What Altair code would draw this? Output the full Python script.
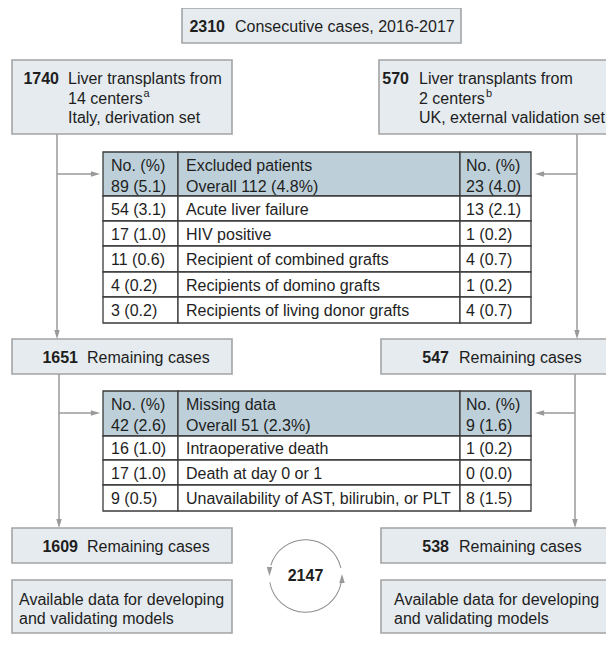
import altair as alt
import pandas as pd

# ------------------------------------------------------------------ data
total_n = "2310"
total_label = "Consecutive cases, 2016-2017"

italy_n = "1740"
italy_lines = ["Liver transplants from", "14 centers", "Italy, derivation set"]
italy_note = "a"
uk_n = "570"
uk_lines = ["Liver transplants from", "2 centers", "UK, external validation set"]
uk_note = "b"

excl_head_left = ["No. (%)", "89 (5.1)"]
excl_head_mid = ["Excluded patients", "Overall 112 (4.8%)"]
excl_head_right = ["No. (%)", "23 (4.0)"]
excl_italy = ["54 (3.1)", "17 (1.0)", "11 (0.6)", "4 (0.2)", "3 (0.2)"]
excl_reason = ["Acute liver failure", "HIV positive", "Recipient of combined grafts",
               "Recipients of domino grafts", "Recipients of living donor grafts"]
excl_uk = ["13 (2.1)", "1 (0.2)", "4 (0.7)", "1 (0.2)", "4 (0.7)"]

remain1 = ["1651", "547"]
remain_label = "Remaining cases"

miss_head_left = ["No. (%)", "42 (2.6)"]
miss_head_mid = ["Missing data", "Overall 51 (2.3%)"]
miss_head_right = ["No. (%)", "9 (1.6)"]
miss_italy = ["16 (1.0)", "17 (1.0)", "9 (0.5)"]
miss_reason = ["Intraoperative death", "Death at day 0 or 1",
               "Unavailability of AST, bilirubin, or PLT"]
miss_uk = ["1 (0.2)", "0 (0.0)", "8 (1.5)"]

remain2 = ["1609", "538"]
final_lines = ["Available data for developing", "and validating models"]
pooled_n = "2147"

# ------------------------------------------------------------------ layout / style
W, H = 598, 628
FONT = "Liberation Sans"
FS = 16
C_TEXT = "#1e1e1e"
C_BOX = "#e5ebee"
C_BOX_STROKE = "#a4a4a4"
C_HEAD = "#bdd0d9"
C_GRID = "#3a3a3a"
C_ARROW = "#9a9a9a"

xs = alt.Scale(domain=[8, 8 + W], nice=False, zero=False)
ys = alt.Scale(domain=[8, 8 + H], nice=False, zero=False, reverse=True)


def X(f):
    return alt.X(f, type="quantitative", scale=xs, axis=None)


def Y(f):
    return alt.Y(f, type="quantitative", scale=ys, axis=None)


LX = (12, 232)
RX = (379, 620)

# boxes
boxes = pd.DataFrame([
    (182, 461, 8, 43),
    (LX[0], LX[1], 60, 134), (RX[0], RX[1], 60, 134),
    (LX[0], LX[1], 339, 374), (381, RX[1], 339, 374),
    (LX[0], LX[1], 528, 563), (381, RX[1], 528, 563),
    (LX[0], LX[1], 580, 633), (381, RX[1], 580, 633),
], columns=["x", "x2", "y", "y2"])

# table cells
cols = [103, 178, 460, 531]
t1_rows = [152, 196, 221, 246, 272, 297, 323]
t2_rows = [391, 436, 460, 485, 511]
cells = []
for rows in (t1_rows, t2_rows):
    for i in range(len(rows) - 1):
        for j in range(3):
            cells.append((cols[j], cols[j + 1], rows[i], rows[i + 1],
                          C_HEAD if i == 0 else "white"))
cells = pd.DataFrame(cells, columns=["x", "x2", "y", "y2", "fill"])

# connector lines
lines = pd.DataFrame([
    (57, 134, 57, 335), (57, 174, 96, 174),
    (577, 134, 577, 335), (577, 174, 539, 174),
    (59, 374, 59, 524), (59, 413, 96, 413),
    (575, 374, 575, 524), (575, 413, 539, 413),
], columns=["x", "y", "x2", "y2"])

DOWN = "M-0.6,-1L0.6,-1L0,1Z"
UP = "M-0.6,1L0.6,1L0,-1Z"
RIGHT = "M-1,-0.6L-1,0.6L1,0Z"
LEFT = "M1,-0.6L1,0.6L-1,0Z"
heads = pd.DataFrame([
    (57, 334.5, DOWN), (577, 334.5, DOWN), (59, 523.5, DOWN), (575, 523.5, DOWN),
    (95.5, 174, RIGHT), (95.5, 413, RIGHT), (539.5, 174, LEFT), (539.5, 413, LEFT),
    (269.5, 571.5, DOWN), (342, 578.5, UP),
], columns=["x", "y", "shape"])

arcs = pd.DataFrame([
    (305.5, 576, 5.01, 7.63),
    (305.5, 576, 1.76, 4.54),
], columns=["x", "y", "t1", "t2"])

# texts
UKX = 419
bold_right = pd.DataFrame([
    (225, 26, total_n),
    (59, 78, italy_n), (UKX - 10, 78, uk_n),
    (78, 357, remain1[0]), (449, 357, remain1[1]),
    (78, 546, remain2[0]), (449, 546, remain2[1]),
], columns=["x", "y", "t"])

reg = [(235, 26, total_label)]
for k, ln in enumerate(italy_lines):
    reg.append((68, 78 + 19.5 * k, ln))
for k, ln in enumerate(uk_lines):
    reg.append((UKX, 78 + 19.5 * k, ln))
reg.append((87, 357, remain_label))
reg.append((459, 357, remain_label))
reg.append((87, 546, remain_label))
reg.append((459, 546, remain_label))
CX = [111, 186, 466]
for hl, hm, hr, ys_ in ((excl_head_left, excl_head_mid, excl_head_right, (164.5, 185.5)),
                        (miss_head_left, miss_head_mid, miss_head_right, (403.5, 424.5))):
    for k in range(2):
        reg.append((CX[0], ys_[k], hl[k]))
        reg.append((CX[1], ys_[k], hm[k]))
        reg.append((CX[2], ys_[k], hr[k]))
for a, b, c, yy in zip(excl_italy, excl_reason, excl_uk, [208.5, 233.5, 259, 284.5, 310]):
    reg += [(CX[0], yy, a), (CX[1], yy, b), (CX[2], yy, c)]
for a, b, c, yy in zip(miss_italy, miss_reason, miss_uk, [448, 472.5, 498]):
    reg += [(CX[0], yy, a), (CX[1], yy, b), (CX[2], yy, c)]
for k, ln in enumerate(final_lines):
    reg.append((19, 599 + 18.5 * k, ln))
    reg.append((394, 599 + 18.5 * k, ln))
reg = pd.DataFrame(reg, columns=["x", "y", "t"])

centered = pd.DataFrame([(305.5, 575, pooled_n)], columns=["x", "y", "t"])
notes = pd.DataFrame([(143.5, 93.5, italy_note), (UKX + 67, 93.5, uk_note)],
                     columns=["x", "y", "t"])

# ------------------------------------------------------------------ layers
box_layer = alt.Chart(boxes).mark_rect(
    fill=C_BOX, stroke=C_BOX_STROKE, strokeWidth=1.6, clip=True
).encode(x=X("x"), x2="x2", y=Y("y"), y2="y2")

cell_layer = alt.Chart(cells).mark_rect(
    stroke=C_GRID, strokeWidth=1.3
).encode(x=X("x"), x2="x2", y=Y("y"), y2="y2", fill=alt.Fill("fill:N", scale=None))

line_layer = alt.Chart(lines).mark_rule(
    color=C_ARROW, strokeWidth=1.5
).encode(x=X("x"), x2="x2", y=Y("y"), y2="y2")

head_layer = alt.Chart(heads).mark_point(
    filled=True, size=85, color=C_ARROW, opacity=1
).encode(x=X("x"), y=Y("y"), shape=alt.Shape("shape:N", scale=None))

arc_layer = alt.Chart(arcs).mark_arc(
    radius=36.8, radius2=35.8, color="#8c8c8c"
).encode(x=X("x"), y=Y("y"), theta=alt.Theta("t1:Q", scale=None), theta2="t2:Q")

txt_bold = alt.Chart(bold_right).mark_text(
    font=FONT, fontSize=FS, fontWeight="bold", align="right", baseline="middle",
    dy=1, color=C_TEXT
).encode(x=X("x"), y=Y("y"), text="t:N")

txt_reg = alt.Chart(reg).mark_text(
    font=FONT, fontSize=FS, align="left", baseline="middle", dy=1, color=C_TEXT
).encode(x=X("x"), y=Y("y"), text="t:N")

txt_center = alt.Chart(centered).mark_text(
    font=FONT, fontSize=FS, fontWeight="bold", align="center", baseline="middle",
    dy=1, color=C_TEXT
).encode(x=X("x"), y=Y("y"), text="t:N")

txt_notes = alt.Chart(notes).mark_text(
    font=FONT, fontSize=11, align="left", baseline="middle", color=C_TEXT
).encode(x=X("x"), y=Y("y"), text="t:N")

chart = alt.layer(
    box_layer, cell_layer, line_layer, head_layer, arc_layer,
    txt_bold, txt_reg, txt_center, txt_notes
).properties(
    width=W, height=H, background="white", padding=0,
    autosize=alt.AutoSizeParams(type="none")
).configure_view(strokeWidth=0)

chart.save("out.html", embed_options={"renderer": "svg", "actions": False})
